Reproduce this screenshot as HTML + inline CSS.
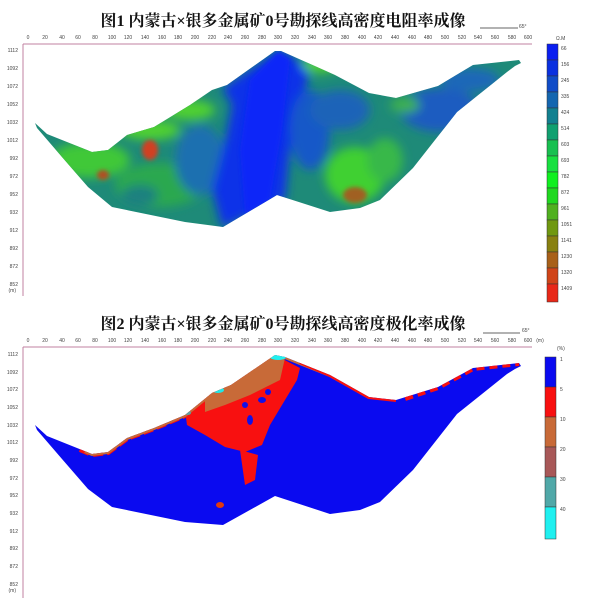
<!DOCTYPE html>
<html><head><meta charset="utf-8"><style>
html,body{margin:0;padding:0;background:#fff;width:600px;height:600px;overflow:hidden}
svg{display:block}
.t{font-family:"Liberation Serif","Noto Serif CJK SC","Noto Sans CJK SC",serif;font-weight:bold;font-size:16px;fill:#111}
.s{font-family:"Liberation Sans",sans-serif;font-size:5px;fill:#444}
</style></head><body>
<svg width="600" height="600" viewBox="0 0 600 600" xmlns="http://www.w3.org/2000/svg">
<defs>
<filter id="bl" x="-20%" y="-20%" width="140%" height="140%"><feGaussianBlur stdDeviation="5"/></filter>
<filter id="bl2" x="-20%" y="-20%" width="140%" height="140%"><feGaussianBlur stdDeviation="2"/></filter>
<clipPath id="c1"><polygon points="35,123 47,134 92,152 108,150 127,135 154,127 190,105 212,90 227,85 275,51 281,51 308,63 335,75 369,93 396,98 438,86 473,65 519,60 521,63 515,66 507,72 457,112 413,168 380,200 360,208 330,212 277,195 223,227 185,222 112,207 88,187 62,157 37,128"/></clipPath>
<clipPath id="c2"><polygon points="35,425 47,436 92,454 108,452 127,438 154,428 185,415 212,393 231,385 275,355 285,357 330,375 369,397 396,400 438,387 473,368 519,363 521,366 515,369 507,374 457,414 413,470 380,502 360,510 330,514 275,496 223,525 185,522 112,507 88,489 62,459 37,430"/></clipPath>
</defs>

<text class="t" x="283" y="26" text-anchor="middle">图1 内蒙古×银多金属矿0号勘探线高密度电阻率成像</text>
<text class="t" x="283" y="329" text-anchor="middle">图2 内蒙古×银多金属矿0号勘探线高密度极化率成像</text>
<line x1="480" y1="28" x2="518" y2="28" stroke="#333" stroke-width="0.8"/><text class="s" x="519" y="28">65°</text>
<line x1="483" y1="333" x2="520" y2="333" stroke="#333" stroke-width="0.8"/><text class="s" x="522" y="332">65°</text>

<g stroke="#c080a0" stroke-width="1" fill="none">
<line x1="23" y1="44" x2="532" y2="44"/><line x1="23" y1="44" x2="23" y2="296"/>
<line x1="23" y1="347" x2="532" y2="347"/><line x1="23" y1="347" x2="23" y2="598"/>
</g>
<g class="s" text-anchor="middle">
<text x="28" y="39">0</text><text x="45" y="39">20</text><text x="62" y="39">40</text><text x="78" y="39">60</text><text x="95" y="39">80</text><text x="112" y="39">100</text><text x="128" y="39">120</text><text x="145" y="39">140</text><text x="162" y="39">160</text><text x="178" y="39">180</text><text x="195" y="39">200</text><text x="212" y="39">220</text><text x="228" y="39">240</text><text x="245" y="39">260</text><text x="262" y="39">280</text><text x="278" y="39">300</text><text x="295" y="39">320</text><text x="312" y="39">340</text><text x="328" y="39">360</text><text x="345" y="39">380</text><text x="362" y="39">400</text><text x="378" y="39">420</text><text x="395" y="39">440</text><text x="412" y="39">460</text><text x="428" y="39">480</text><text x="445" y="39">500</text><text x="462" y="39">520</text><text x="478" y="39">540</text><text x="495" y="39">560</text><text x="512" y="39">580</text><text x="528" y="39">600</text>
</g>
<g class="s" text-anchor="middle" transform="translate(0,303)">
<text x="28" y="39">0</text><text x="45" y="39">20</text><text x="62" y="39">40</text><text x="78" y="39">60</text><text x="95" y="39">80</text><text x="112" y="39">100</text><text x="128" y="39">120</text><text x="145" y="39">140</text><text x="162" y="39">160</text><text x="178" y="39">180</text><text x="195" y="39">200</text><text x="212" y="39">220</text><text x="228" y="39">240</text><text x="245" y="39">260</text><text x="262" y="39">280</text><text x="278" y="39">300</text><text x="295" y="39">320</text><text x="312" y="39">340</text><text x="328" y="39">360</text><text x="345" y="39">380</text><text x="362" y="39">400</text><text x="378" y="39">420</text><text x="395" y="39">440</text><text x="412" y="39">460</text><text x="428" y="39">480</text><text x="445" y="39">500</text><text x="462" y="39">520</text><text x="478" y="39">540</text><text x="495" y="39">560</text><text x="512" y="39">580</text><text x="528" y="39">600</text>
<text x="540" y="39">(m)</text>
</g>
<g class="s" text-anchor="end">
<text x="18" y="52">1112</text><text x="18" y="70">1092</text><text x="18" y="88">1072</text><text x="18" y="106">1052</text><text x="18" y="124">1032</text><text x="18" y="142">1012</text><text x="18" y="160">992</text><text x="18" y="178">972</text><text x="18" y="196">952</text><text x="18" y="214">932</text><text x="18" y="232">912</text><text x="18" y="250">892</text><text x="18" y="268">872</text><text x="18" y="286">852</text><text x="16" y="292">(m)</text>
<text x="18" y="356">1112</text><text x="18" y="374">1092</text><text x="18" y="391">1072</text><text x="18" y="409">1052</text><text x="18" y="427">1032</text><text x="18" y="444">1012</text><text x="18" y="462">992</text><text x="18" y="480">972</text><text x="18" y="497">952</text><text x="18" y="515">932</text><text x="18" y="533">912</text><text x="18" y="550">892</text><text x="18" y="568">872</text><text x="18" y="586">852</text><text x="16" y="592">(m)</text>
</g>

<g clip-path="url(#c1)">
<rect x="30" y="45" width="500" height="190" fill="#1e8a78"/>
<g filter="url(#bl)">
<ellipse cx="90" cy="160" rx="40" ry="18" fill="#40c838"/>
<ellipse cx="160" cy="185" rx="45" ry="22" fill="#2aa850"/>
<ellipse cx="150" cy="130" rx="30" ry="10" fill="#50d030"/>
<ellipse cx="190" cy="110" rx="25" ry="10" fill="#50d030"/>
<ellipse cx="140" cy="195" rx="18" ry="10" fill="#1a8080"/>
<ellipse cx="200" cy="160" rx="25" ry="35" fill="#1a70b0"/>
<polygon points="222,88 281,48 310,70 300,110 290,150 285,200 250,215 222,228 212,190 225,140 232,105" fill="#0a30e8"/>
<ellipse cx="310" cy="130" rx="20" ry="40" fill="#1858c8"/>
<ellipse cx="340" cy="110" rx="30" ry="20" fill="#1a64b8"/>
<ellipse cx="320" cy="65" rx="18" ry="8" fill="#50d030"/>
<ellipse cx="355" cy="175" rx="30" ry="28" fill="#40d030"/>
<ellipse cx="385" cy="160" rx="18" ry="22" fill="#38b848"/>
<ellipse cx="440" cy="110" rx="40" ry="22" fill="#1c5cc0"/>
<ellipse cx="470" cy="80" rx="30" ry="12" fill="#1f68b8"/>
<ellipse cx="405" cy="105" rx="15" ry="8" fill="#3cb050"/>
</g>
<g filter="url(#bl2)">
<ellipse cx="355" cy="195" rx="12" ry="8" fill="#a06020"/>
<ellipse cx="150" cy="150" rx="8" ry="10" fill="#d04020"/>
<ellipse cx="103" cy="175" rx="6" ry="5" fill="#b05020"/>
<polygon points="250,80 278,52 290,60 282,130 270,200 245,215 240,150" fill="#0a28f8"/>
</g>
</g>

<g clip-path="url(#c2)">
<rect x="30" y="350" width="500" height="185" fill="#0a0af0"/>
<polygon points="185,410 205,395 230,383 275,355 300,368 297,380 285,400 270,425 262,445 245,452 225,447 205,435 187,425" fill="#f81010"/>
<polygon points="240,450 258,455 255,480 245,485" fill="#f81010"/>
<ellipse cx="220" cy="505" rx="4" ry="3" fill="#e03a10"/>
<g fill="#1010e8">
<ellipse cx="262" cy="400" rx="4" ry="3"/><ellipse cx="250" cy="420" rx="3" ry="5"/><ellipse cx="245" cy="405" rx="3" ry="3"/><ellipse cx="268" cy="392" rx="3" ry="3"/>
</g>
<polyline points="80,449 92,454 108,452 127,438 154,428 185,415" fill="none" stroke="#f81010" stroke-width="6" stroke-dasharray="10 4"/>
<polyline points="85,451 92,454 108,452 127,438 154,428 185,415 212,393 231,385 275,355 285,357 330,375 369,397" fill="none" stroke="#c86a38" stroke-width="4"/>
<polyline points="405,398 438,387 473,368 519,363" fill="none" stroke="#f81010" stroke-width="6" stroke-dasharray="8 5"/>
<polyline points="300,362 330,375 369,397 396,400" fill="none" stroke="#f81010" stroke-width="4"/>
<polygon points="205,395 230,383 275,355 285,358 280,380 250,395 225,405 205,412" fill="#c86a38"/>
<ellipse cx="278" cy="357" rx="8" ry="3" fill="#20f0f0"/>
<ellipse cx="218" cy="390" rx="6" ry="3" fill="#20e8e8"/>
<ellipse cx="188" cy="413" rx="3" ry="2" fill="#60a0a0"/>
</g>

<g stroke="#333" stroke-width="0.5">
<rect x="547" y="44" width="11" height="16" fill="#0a1ef0"/>
<rect x="547" y="60" width="11" height="16" fill="#0a30e0"/>
<rect x="547" y="76" width="11" height="16" fill="#104cc8"/>
<rect x="547" y="92" width="11" height="16" fill="#1466b0"/>
<rect x="547" y="108" width="11" height="16" fill="#128090"/>
<rect x="547" y="124" width="11" height="16" fill="#10a070"/>
<rect x="547" y="140" width="11" height="16" fill="#18c050"/>
<rect x="547" y="156" width="11" height="16" fill="#18e040"/>
<rect x="547" y="172" width="11" height="16" fill="#10f020"/>
<rect x="547" y="188" width="11" height="16" fill="#20d820"/>
<rect x="547" y="204" width="11" height="16" fill="#50b020"/>
<rect x="547" y="220" width="11" height="16" fill="#709810"/>
<rect x="547" y="236" width="11" height="16" fill="#888010"/>
<rect x="547" y="252" width="11" height="16" fill="#a86018"/>
<rect x="547" y="268" width="11" height="16" fill="#d04418"/>
<rect x="547" y="284" width="11" height="18" fill="#e82818"/>
</g>
<g class="s">
<text x="556" y="40">Ω.M</text>
<text x="561" y="50">66</text><text x="561" y="66">156</text><text x="561" y="82">245</text><text x="561" y="98">335</text><text x="561" y="114">424</text><text x="561" y="130">514</text><text x="561" y="146">603</text><text x="561" y="162">693</text><text x="561" y="178">782</text><text x="561" y="194">872</text><text x="561" y="210">961</text><text x="561" y="226">1051</text><text x="561" y="242">1141</text><text x="561" y="258">1230</text><text x="561" y="274">1320</text><text x="561" y="290">1409</text>
</g>

<g stroke="#333" stroke-width="0.5">
<rect x="545" y="357" width="11" height="30" fill="#0a0af0"/>
<rect x="545" y="387" width="11" height="30" fill="#f81010"/>
<rect x="545" y="417" width="11" height="30" fill="#c86a38"/>
<rect x="545" y="447" width="11" height="30" fill="#a85858"/>
<rect x="545" y="477" width="11" height="30" fill="#50a8a8"/>
<rect x="545" y="507" width="11" height="32" fill="#20f0f0"/>
</g>
<g class="s">
<text x="557" y="350">(%)</text>
<text x="560" y="361">1</text><text x="560" y="391">5</text><text x="560" y="421">10</text><text x="560" y="451">20</text><text x="560" y="481">30</text><text x="560" y="511">40</text>
</g>
</svg>
</body></html>
